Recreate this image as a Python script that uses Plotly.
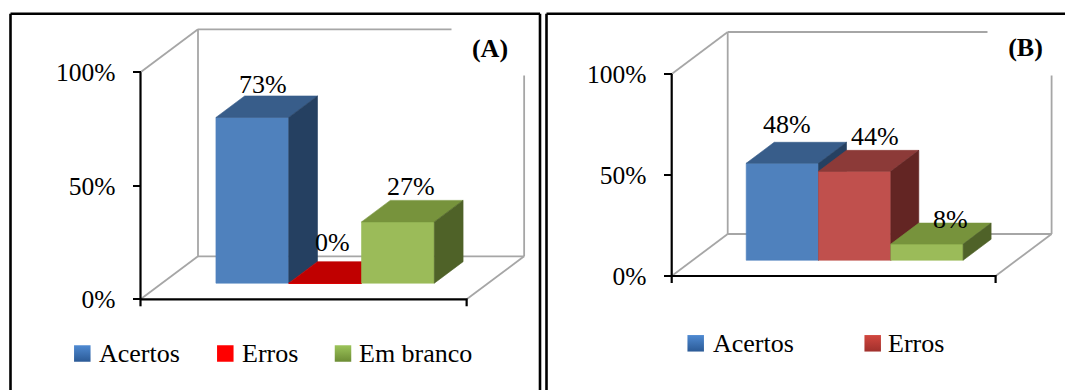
import plotly.graph_objects as go

W, H = 1065, 390

# ---- data -------------------------------------------------------------
categories = ["Acertos", "Erros", "Em branco"]
values_a = [73, 0, 27]
values_b = [48, 44, 8]
legend_a = ["Acertos", "Erros", "Em branco"]
legend_b = ["Acertos", "Erros"]
y_ticks = [0, 50, 100]
y_tick_text = ["0%", "50%", "100%"]
panel_titles = ["(A)", "(B)"]

# ---- styling ----------------------------------------------------------
FONT = "'Times New Roman', 'Liberation Serif', 'DejaVu Serif', serif"
GRAY = "#A6A6A6"

# front / top / side face colours for each bar
faces_a = [
    ("#4F81BD", "#385D8A", "#254061"),
    ("#FF0000", "#C00000", "#800000"),
    ("#9BBB59", "#77933C", "#4F6228"),
]
faces_b = [
    ("#4F81BD", "#385D8A", "#254061"),
    ("#C0504D", "#8C3A38", "#632523"),
    ("#9BBB59", "#77933C", "#4F6228"),
]
# legend swatches: (top colour, bottom colour) of the vertical gradient
swatch_a = [("#4F8AD2", "#2B5A96"), ("#FF0000", "#FF0000"), ("#9CC45A", "#6C8C34")]
swatch_b = [("#4F8AD2", "#2B5A96"), ("#D2473F", "#A0302C")]

# small pixel nudges (dx right, dy down) for the value labels
label_nudge_a = [(-4, 3), (-7, -5), (-1, 0)]
label_nudge_b = [(-9, -4), (6, 0), (10, 10)]

FRAME_L, FRAME_R = -1.24, 3.24   # front floor edge, in category units
FRONT = 0.375                    # depth fraction where the bars start
BAR_DEPTH = 0.5                  # depth fraction occupied by the bars

panels = [
    dict(values=values_a, faces=faces_a, legend=legend_a, swatch=swatch_a,
         nudge=label_nudge_a,
         title=panel_titles[0], dom=(0, 543), axis_px=140.5, unit_px=72.8,
         zero_px=299.3, pct_px=2.27, depth_px=(57.5, 43.0),
         title_px=(490, 47.5), title_box=(76, 54),
         sw_x=[82.3, 225.3, 343.0], sw_y=353.5, txt_x=[97.0, 240.0, 357.0],
         border=dict(left=10.5, right=540.0)),
    dict(values=values_b, faces=faces_b, legend=legend_b, swatch=swatch_b,
         nudge=label_nudge_b,
         title=panel_titles[1], dom=(543, 1065), axis_px=671.7, unit_px=72.3,
         zero_px=276.0, pct_px=2.02, depth_px=(56.0, 42.0),
         title_px=(1025.5, 47.5), title_box=(75, 55),
         sw_x=[695.7, 872.7], sw_y=343.3, txt_x=[710.5, 885.5],
         border=dict(left=546.5, right=None)),
]

fig = go.Figure()
annotations = []
shapes = []
layout_axes = {}

for k, p in enumerate(panels):
    xa = "x" if k == 0 else "x2"
    ya = "y" if k == 0 else "y2"

    def px_x(px, p=p):
        return FRAME_L + (px - p["axis_px"]) / p["unit_px"]

    def px_y(py, p=p):
        return (p["zero_px"] - py) / p["pct_px"]

    DX = p["depth_px"][0] / p["unit_px"]
    DY = p["depth_px"][1] / p["pct_px"]
    tick = 7.0 / p["pct_px"]

    # walls and floor outline
    gx, gy = [], []
    for seg in [
        [(FRAME_L, 100), (FRAME_L + DX, 100 + DY)],
        [(FRAME_L, 0), (FRAME_L + DX, DY)],
        [(FRAME_L + DX, DY), (FRAME_L + DX, 100 + DY)],
        [(FRAME_L + DX, 100 + DY), (FRAME_R + DX, 100 + DY)],
        [(FRAME_L + DX, DY), (FRAME_R + DX, DY)],
        [(FRAME_R + DX, DY), (FRAME_R + DX, 100 + DY)],
        [(FRAME_R, 0), (FRAME_R + DX, DY)],
    ]:
        for (sx, sy) in seg:
            gx.append(sx)
            gy.append(sy)
        gx.append(None)
        gy.append(None)
    fig.add_trace(go.Scatter(x=gx, y=gy, mode="lines", xaxis=xa, yaxis=ya,
                             line=dict(color=GRAY, width=1.8),
                             hoverinfo="skip", showlegend=False))

    # value axis line and category axis line
    fig.add_trace(go.Scatter(
        x=[FRAME_L, FRAME_L, None, FRAME_L, FRAME_R, FRAME_R],
        y=[-tick, 100, None, 0, 0, -tick],
        mode="lines", xaxis=xa, yaxis=ya,
        line=dict(color="black", width=2.2),
        hoverinfo="skip", showlegend=False))

    # 3-D bars: front, top and side faces
    bdx, bdy = BAR_DEPTH * DX, BAR_DEPTH * DY
    for i, (cat, v) in enumerate(zip(categories, p["values"])):
        front_c, top_c, side_c = p["faces"][i]
        x0 = i - 0.5 + FRONT * DX
        x1 = x0 + 1.0
        y0 = FRONT * DY
        y1 = y0 + v
        polys = [
            ([x0, x1, x1, x0, x0], [y0, y0, y1, y1, y0], front_c, 0.6),
            ([x0, x1, x1 + bdx, x0 + bdx, x0], [y1, y1, y1 + bdy, y1 + bdy, y1], top_c, 0.6),
            ([x1, x1 + bdx, x1 + bdx, x1, x1], [y0, y0 + bdy, y1 + bdy, y1, y0], side_c, 0.6),
        ]
        if v == 0:
            # a zero-height bar still shows a thin front edge
            polys[0] = (polys[0][0], polys[0][1], front_c, 1.6)
        for px_, py_, c, lw in polys:
            fig.add_trace(go.Scatter(x=px_, y=py_, mode="lines", fill="toself",
                                     fillcolor=c, line=dict(color=c, width=lw),
                                     xaxis=xa, yaxis=ya, name=cat,
                                     hoverinfo="skip", showlegend=False))
        ndx, ndy = p["nudge"][i]
        annotations.append(dict(
            x=i + (FRONT + BAR_DEPTH / 2) * DX, y=y1 + bdy, xref=xa, yref=ya,
            text=f"{v}%", showarrow=False, yanchor="middle",
            xshift=ndx, yshift=14 - ndy,
            font=dict(family=FONT, size=26, color="black")))

    # legend swatches and labels
    for j, name in enumerate(p["legend"]):
        top_c, bot_c = p["swatch"][j]
        fig.add_trace(go.Scatter(
            x=[px_x(p["sw_x"][j])], y=[px_y(p["sw_y"])], mode="markers",
            xaxis=xa, yaxis=ya, hoverinfo="skip", showlegend=False,
            marker=dict(symbol="square", size=16.5, color=top_c,
                        gradient=dict(type="vertical", color=bot_c),
                        line=dict(width=0))))
        annotations.append(dict(
            x=px_x(p["txt_x"][j]), y=px_y(p["sw_y"]), xref=xa, yref=ya,
            text=name, showarrow=False, xanchor="left", yanchor="middle",
            font=dict(family=FONT, size=26, color="black")))

    # panel tag with an opaque box
    annotations.append(dict(
        x=px_x(p["title_px"][0]), y=px_y(p["title_px"][1]), xref=xa, yref=ya,
        text=f"<b>{p['title']}</b>", showarrow=False, xanchor="center",
        yanchor="middle", bgcolor="white", borderpad=0,
        width=p["title_box"][0], height=p["title_box"][1],
        font=dict(family=FONT, size=26, color="black")))

    # axes
    d0, d1 = p["dom"]
    xr = [px_x(d0), px_x(d1)]
    yr = [px_y(H), px_y(0)]
    sfx = "" if k == 0 else "2"
    layout_axes["xaxis" + sfx] = dict(domain=[d0 / W, d1 / W], range=xr,
                                      visible=False, fixedrange=True,
                                      anchor="y" + sfx)
    layout_axes["yaxis" + sfx] = dict(
        domain=[0, 1], range=yr, anchor="free", position=p["axis_px"] / W,
        tickvals=y_ticks, ticktext=y_tick_text, ticks="outside", ticklen=8,
        tickwidth=2, tickcolor="black", showgrid=False, zeroline=False,
        showline=False, ticklabelstandoff=12, fixedrange=True,
        tickfont=dict(family=FONT, size=25.5, color="black"))

    # panel border
    b = p["border"]
    top_y = 1 - 13.8 / H
    shapes.append(dict(type="line", xref="paper", yref="paper",
                       x0=b["left"] / W, x1=b["left"] / W, y0=-0.05, y1=top_y,
                       line=dict(color="black", width=2.6)))
    shapes.append(dict(type="line", xref="paper", yref="paper",
                       x0=b["left"] / W,
                       x1=(b["right"] / W if b["right"] else 1.05),
                       y0=top_y, y1=top_y,
                       line=dict(color="black", width=2.6)))
    if b["right"]:
        shapes.append(dict(type="line", xref="paper", yref="paper",
                           x0=b["right"] / W, x1=b["right"] / W, y0=-0.05,
                           y1=top_y, line=dict(color="black", width=2.6)))

fig.update_layout(
    width=W, height=H, autosize=False,
    margin=dict(l=0, r=0, t=0, b=0),
    paper_bgcolor="white", plot_bgcolor="white",
    showlegend=False, annotations=annotations, shapes=shapes,
    **layout_axes)

fig.write_html("out.html")
